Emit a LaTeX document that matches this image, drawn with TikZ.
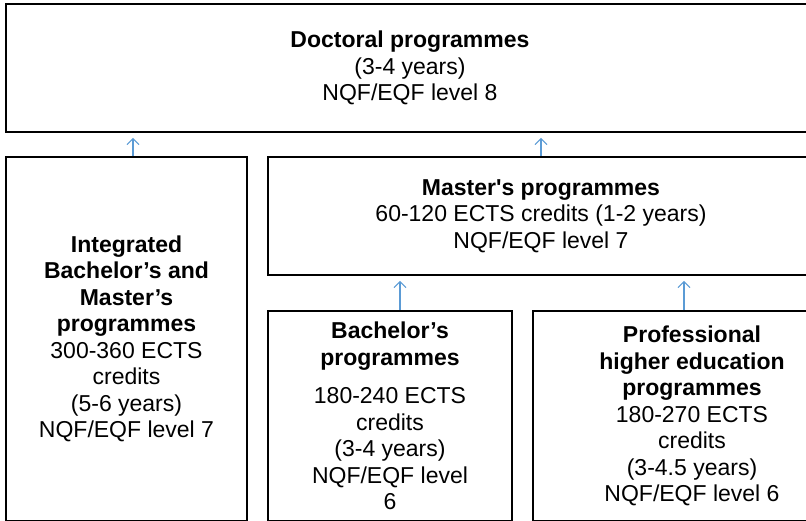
\documentclass[tikz,border=0pt]{standalone}
\usepackage{fontspec}
\setmainfont{Liberation Sans}
\usetikzlibrary{arrows.meta}
\definecolor{arrowblue}{RGB}{91,155,213}
\tikzset{
    progbox/.style={draw=black, line width=1.6pt, align=center, inner sep=0pt,
        font=\fontsize{23}{26.5}\selectfont},
    uparrow/.style={draw=arrowblue, line width=1.1pt,
        -{Straight Barb[length=6pt,width=12pt]}, shorten >=5pt}
}
\begin{document}
\begin{tikzpicture}[x=1pt, y=-1pt]
                    \useasboundingbox (0,0) rectangle (806,520);
                    \clip (0,0) rectangle (806,520);
                    \node[progbox, minimum width=808pt, minimum height=128pt] (doc) at (410,68)
                        {\textbf{Doctoral programmes}\\(3-4 years)\\NQF/EQF level 8};
                    \node[progbox, minimum width=241pt, minimum height=364pt] (integ) at (126.5,339)
                        {\textbf{Integrated}\\\textbf{Bachelor’s and}\\\textbf{Master’s}\\\textbf{programmes}\\300-360 ECTS\\credits\\(5-6 years)\\NQF/EQF level 7};
                    \node[progbox, minimum width=546pt, minimum height=118pt] (master) at (541,216)
                        {\textbf{Master\textquotesingle s programmes}\\60-120 ECTS credits (1-2 years)\\NQF/EQF level 7};
                    \node[progbox, minimum width=244pt, minimum height=210pt] (bach) at (390,416)
                        {\textbf{Bachelor’s}\\\textbf{programmes}\\[12pt]180-240 ECTS\\credits\\(3-4 years)\\NQF/EQF level\\6};
                    \node[progbox, minimum width=318pt, minimum height=210pt] (prof) at (692,416)
                        {\textbf{Professional}\\\textbf{higher education}\\\textbf{programmes}\\180-270 ECTS\\credits\\(3-4.5 years)\\NQF/EQF level 6};
                    % arrows up to the next level
                    \draw[uparrow] ([xshift=6.5pt]integ.north) -- ([xshift=6.5pt]integ.north |- doc.south);
                    \draw[uparrow] (master.north) -- (master.north |- doc.south);
                    \draw[uparrow] ([xshift=10pt]bach.north) -- ([xshift=10pt]bach.north |- master.south);
                    \draw[uparrow] ([xshift=-8pt]prof.north) -- ([xshift=-8pt]prof.north |- master.south);
                \end{tikzpicture}
\end{document}
